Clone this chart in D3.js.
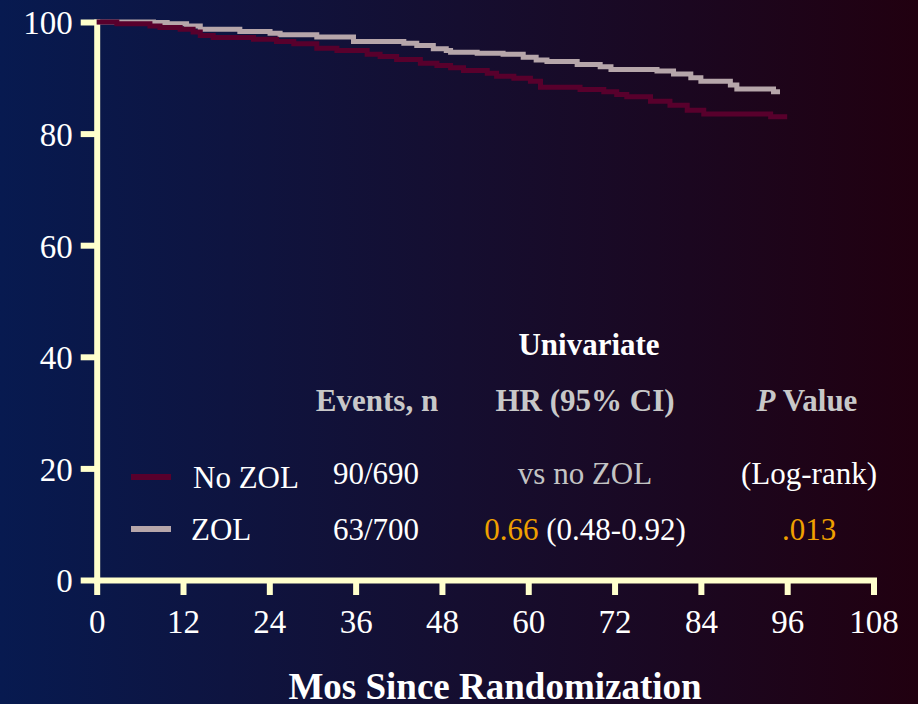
<!DOCTYPE html>
<html>
<head>
<meta charset="utf-8">
<script src="https://cdn.jsdelivr.net/npm/d3@7"></script>
<style>
  body { margin: 0; background: #0d1030; }
</style>
</head>
<body>
<div id="chart"></div>
<script>
// survival curves (months, % event-free)
var zolMonths = [0, 7.9, 9.8, 12.5, 14.4, 19.9, 24.1, 25.5, 30.6, 35.7, 42.7, 44.5, 46.8, 48.6, 49.2, 52.9, 56.5, 59.3, 61.1, 62.6, 66.8, 70.0, 71.5, 77.9, 80.2, 82.6, 84.0, 88.1, 89.0, 94.1, 95.0];
var zolSurv = [100, 99.9, 99.7, 99.3, 98.7, 98.3, 98.0, 97.7, 97.3, 96.5, 96.2, 95.8, 95.2, 94.9, 94.6, 94.4, 94.2, 93.7, 93.2, 92.9, 92.4, 92.0, 91.5, 91.2, 90.7, 90.0, 89.4, 88.7, 88.0, 87.5, 87.5];

var noZolMonths = [0, 2.8, 7.4, 8.8, 11.6, 13.4, 14.4, 16.2, 21.8, 25.0, 27.4, 30.6, 33.4, 37.6, 39.4, 41.7, 45.0, 47.3, 49.2, 51.0, 54.3, 55.6, 58.0, 60.3, 61.7, 67.2, 70.5, 72.3, 73.7, 77.0, 79.7, 82.1, 84.4, 93.7, 96.0];
var noZolSurv = [100, 99.7, 99.3, 99.0, 98.7, 98.2, 97.6, 97.2, 96.9, 96.5, 96.1, 95.3, 94.9, 94.2, 93.8, 93.3, 92.6, 92.2, 91.8, 91.3, 90.8, 90.3, 89.9, 89.4, 88.3, 87.9, 87.5, 87.0, 86.6, 85.8, 85.1, 84.2, 83.5, 83.0, 83.0];

var xTicks = [0, 12, 24, 36, 48, 60, 72, 84, 96, 108];
var yTicks = [0, 20, 40, 60, 80, 100];

var groupNames = ["No ZOL", "ZOL"];
var groupEvents = ["90/690", "63/700"];

var width = 918, height = 704;
var serif = "'Liberation Serif', 'Times New Roman', serif";
var axisColor = "#ffffcc";
var noZolColor = "#58002c";
var zolColor = "#b6a6aa";

var svg = d3.select("#chart").append("svg")
  .attr("width", width)
  .attr("height", height);

var grad = svg.append("defs").append("linearGradient")
  .attr("id", "bg")
  .attr("x1", "0%").attr("x2", "100%").attr("y1", "0%").attr("y2", "0%");
grad.append("stop").attr("offset", "0%").attr("stop-color", "#071a50");
grad.append("stop").attr("offset", "50%").attr("stop-color", "#150e30");
grad.append("stop").attr("offset", "100%").attr("stop-color", "#210010");

svg.append("rect")
  .attr("width", width).attr("height", height)
  .attr("fill", "url(#bg)");

var x = d3.scaleLinear().domain([0, 108]).range([96.7, 873.5]);
var y = d3.scaleLinear().domain([0, 100]).range([580, 22]);

// axes
var yAxis = d3.axisLeft(y)
  .tickValues(yTicks)
  .tickSize(16)
  .tickSizeOuter(0)
  .tickPadding(8);

var xAxis = d3.axisBottom(x)
  .tickValues(xTicks)
  .tickSize(15)
  .tickSizeOuter(0)
  .tickPadding(14);

var gx = svg.append("g")
  .attr("transform", "translate(0," + y(0) + ")")
  .call(xAxis);

var gy = svg.append("g")
  .attr("transform", "translate(" + x(0) + ",0)")
  .call(yAxis);

[gx, gy].forEach(function(g) {
  g.attr("font-family", null).attr("font-size", null);
  g.select(".domain")
    .attr("stroke", axisColor)
    .attr("stroke-width", 6)
    .attr("stroke-linecap", "square");
  g.selectAll(".tick line")
    .attr("stroke", axisColor)
    .attr("stroke-width", 6);
  g.selectAll(".tick text")
    .attr("fill", "#ffffff")
    .style("font-size", "33px")
    .style("font-family", serif);
});
gy.selectAll(".tick text").attr("dy", "0.36em");
gx.selectAll(".tick text").attr("dy", "0.72em");

// curves
var line = d3.line()
  .curve(d3.curveStepAfter)
  .x(function(d) { return x(d[0]); })
  .y(function(d) { return y(d[1]); });

var zolData = d3.zip(zolMonths, zolSurv);
var noZolData = d3.zip(noZolMonths, noZolSurv);

svg.append("path")
  .datum(zolData)
  .attr("d", line)
  .attr("fill", "none")
  .attr("stroke", zolColor)
  .attr("stroke-width", 5);

svg.append("path")
  .datum(noZolData)
  .attr("d", line)
  .attr("fill", "none")
  .attr("stroke", noZolColor)
  .attr("stroke-width", 5);

// axis title
svg.append("text")
  .attr("x", 495).attr("y", 699)
  .attr("text-anchor", "middle")
  .attr("fill", "#ffffff")
  .style("font-family", serif)
  .style("font-size", "37px")
  .style("font-weight", "bold")
  .text("Mos Since Randomization");

// table / legend
var grey = "#c8c8c8";
function label(xp, yp, txt, color, bold) {
  return svg.append("text")
    .attr("x", xp).attr("y", yp)
    .attr("text-anchor", "middle")
    .attr("fill", color)
    .style("font-family", serif)
    .style("font-size", "31px")
    .style("font-weight", bold ? "bold" : "normal")
    .text(txt);
}

label(589, 355, "Univariate", "#ffffff", true);
label(377, 411, "Events, n", grey, true);
label(585, 411, "HR (95% CI)", grey, true);

var pv = svg.append("text")
  .attr("x", 807).attr("y", 411)
  .attr("text-anchor", "middle")
  .attr("fill", grey)
  .style("font-family", serif)
  .style("font-size", "31px")
  .style("font-weight", "bold");
pv.append("tspan").style("font-style", "italic").text("P");
pv.append("tspan").text(" Value");

var legendColors = [noZolColor, zolColor];
var rowY = [486, 540];

svg.selectAll(".legline")
  .data(groupNames)
  .enter().append("line")
  .attr("x1", 131).attr("x2", 171)
  .attr("y1", function(d, i) { return rowY[i] - 9 - (i ? 2 : 0); })
  .attr("y2", function(d, i) { return rowY[i] - 9 - (i ? 2 : 0); })
  .attr("stroke", function(d, i) { return legendColors[i]; })
  .attr("stroke-width", 6);

svg.selectAll(".legname")
  .data(groupNames)
  .enter().append("text")
  .attr("x", function(d, i) { return i ? 191 : 193; })
  .attr("y", function(d, i) { return rowY[i] + (i ? 0 : 2); })
  .attr("fill", "#ffffff")
  .style("font-family", serif)
  .style("font-size", "31px")
  .text(function(d) { return d; });

svg.selectAll(".legevents")
  .data(groupEvents)
  .enter().append("text")
  .attr("x", 376)
  .attr("y", function(d, i) { return rowY[i] - (i ? 0 : 2); })
  .attr("text-anchor", "middle")
  .attr("fill", "#ffffff")
  .style("font-family", serif)
  .style("font-size", "31px")
  .text(function(d) { return d; });

label(585, 484, "vs no ZOL", "#c4c4c4", false);
label(809, 484, "(Log-rank)", "#ffffff", false);

var hr = svg.append("text")
  .attr("x", 585).attr("y", 540)
  .attr("text-anchor", "middle")
  .attr("fill", "#ffffff")
  .style("font-family", serif)
  .style("font-size", "31px");
hr.append("tspan").attr("fill", "#f0a000").text("0.66");
hr.append("tspan").text(" (0.48-0.92)");

label(809, 540, ".013", "#f0a000", false);
</script>
</body>
</html>
